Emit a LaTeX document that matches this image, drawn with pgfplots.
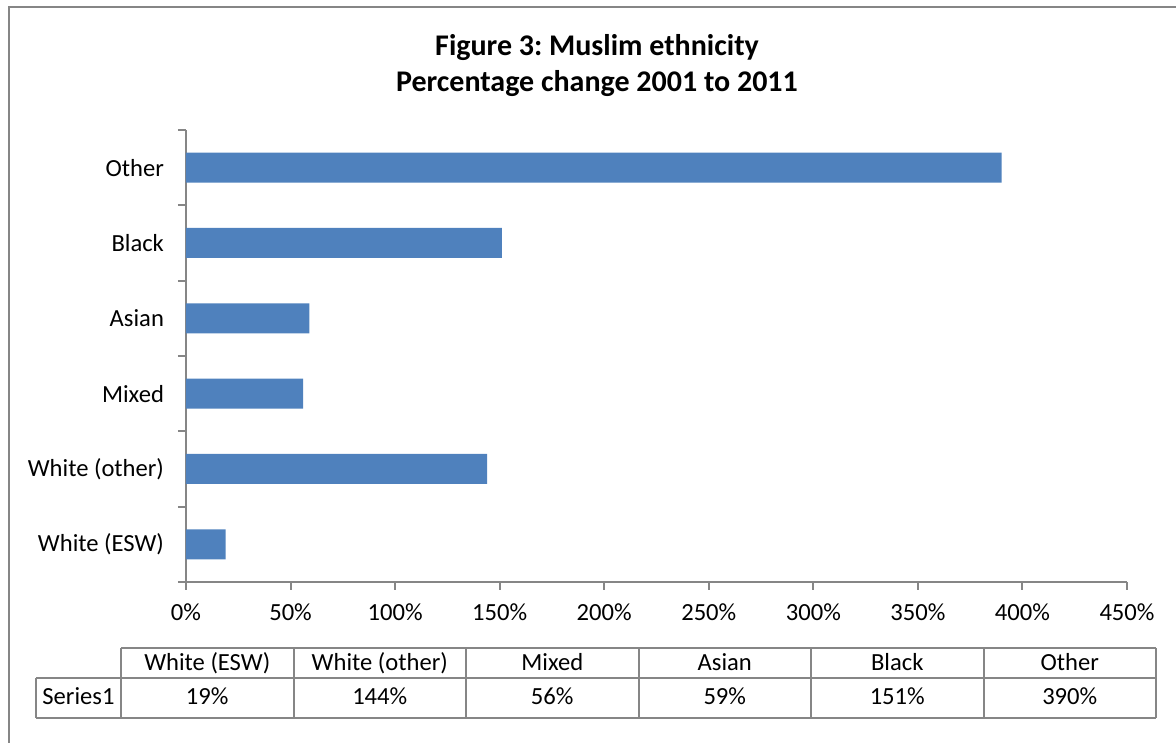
\documentclass[border=0pt]{standalone}
\usepackage{fontspec}
\setmainfont{Carlito}
\usepackage{pgfplots}
\usepackage{pgfplotstable}
\pgfplotsset{compat=1.18}
\definecolor{barblue}{HTML}{4F81BD}
\definecolor{axgray}{HTML}{868686}
\newcommand\lab{\fontsize{12.3pt}{14pt}\selectfont}
\newcommand\ttl{\fontsize{15pt}{18pt}\selectfont\bfseries}
\frenchspacing
\pgfplotstableread{
pos value
1 19
2 144
3 56
4 59
5 151
6 390
}\datatable
\begin{document}
\begin{tikzpicture}
\path[use as bounding box] (0pt,0pt) rectangle (588pt,371.5pt);
\begin{scope}[x=0.5pt,y=-0.5pt,shift={(0pt,371.5pt)}]
  % outer frame (left and top edges)
  \draw[axgray, line width=1pt] (8.5,743) -- (8.5,7) -- (1176,7);
  % title
  \node[anchor=base, inner sep=0pt] at (597,56) {\ttl Figure 3: Muslim ethnicity};
  \node[anchor=base, inner sep=0pt] at (597,92) {\ttl Percentage change 2001 to 2011};
  % data table grid
  \begin{scope}[axgray, line width=1pt]
    \draw (121,648) -- (1156,648);
    \draw (36,678) -- (1156,678);
    \draw (36,718) -- (1156,718);
    \draw (36,678) -- (36,718);
    \foreach \i in {0,...,6} { \draw ({121+172.5*\i},648) -- ({121+172.5*\i},718); }
  \end{scope}
  \foreach \name [count=\i from 0] in {White (ESW),White (other),Mixed,Asian,Black,Other}
    { \node[anchor=base, inner sep=0pt] at ({121+172.5*\i+86.25},671) {\lab \name}; }
  \foreach \val [count=\i from 0] in {19,144,56,59,151,390}
    { \node[anchor=base, inner sep=0pt] at ({121+172.5*\i+86.25},705) {\lab \val\%}; }
  \node[anchor=base, inner sep=0pt] at (78.5,705) {\lab Series1};
\end{scope}
\begin{axis}[
  at={(93pt,80.5pt)}, anchor=south west,
  scale only axis, width=470.5pt, height=226pt,
  xmin=0, xmax=450, ymin=0.5, ymax=6.5,
  xbar, bar width=15pt,
  axis x line*=bottom, axis y line*=left,
  axis line style={axgray, line width=1pt, -},
  tick align=outside,
  major tick length=4pt, minor tick length=4pt,
  tick style={axgray, line width=1pt},
  xtick={0,50,...,450},
  xticklabels={0\%,50\%,100\%,150\%,200\%,250\%,300\%,350\%,400\%,450\%},
  ytick={1,...,6},
  yticklabels={White (ESW),White (other),Mixed,Asian,Black,Other},
  minor ytick={0.5,1.5,...,6.5},
  every major y tick/.append style={opacity=0},
  ticklabel style={font=\lab},
  yticklabel style={anchor=east, xshift=-3.5pt},
  xticklabel style={anchor=north, yshift=-3.5pt},
]
\addplot[fill=barblue, draw=none] table[x=value, y=pos] {\datatable};
\end{axis}
\end{tikzpicture}
\end{document}
